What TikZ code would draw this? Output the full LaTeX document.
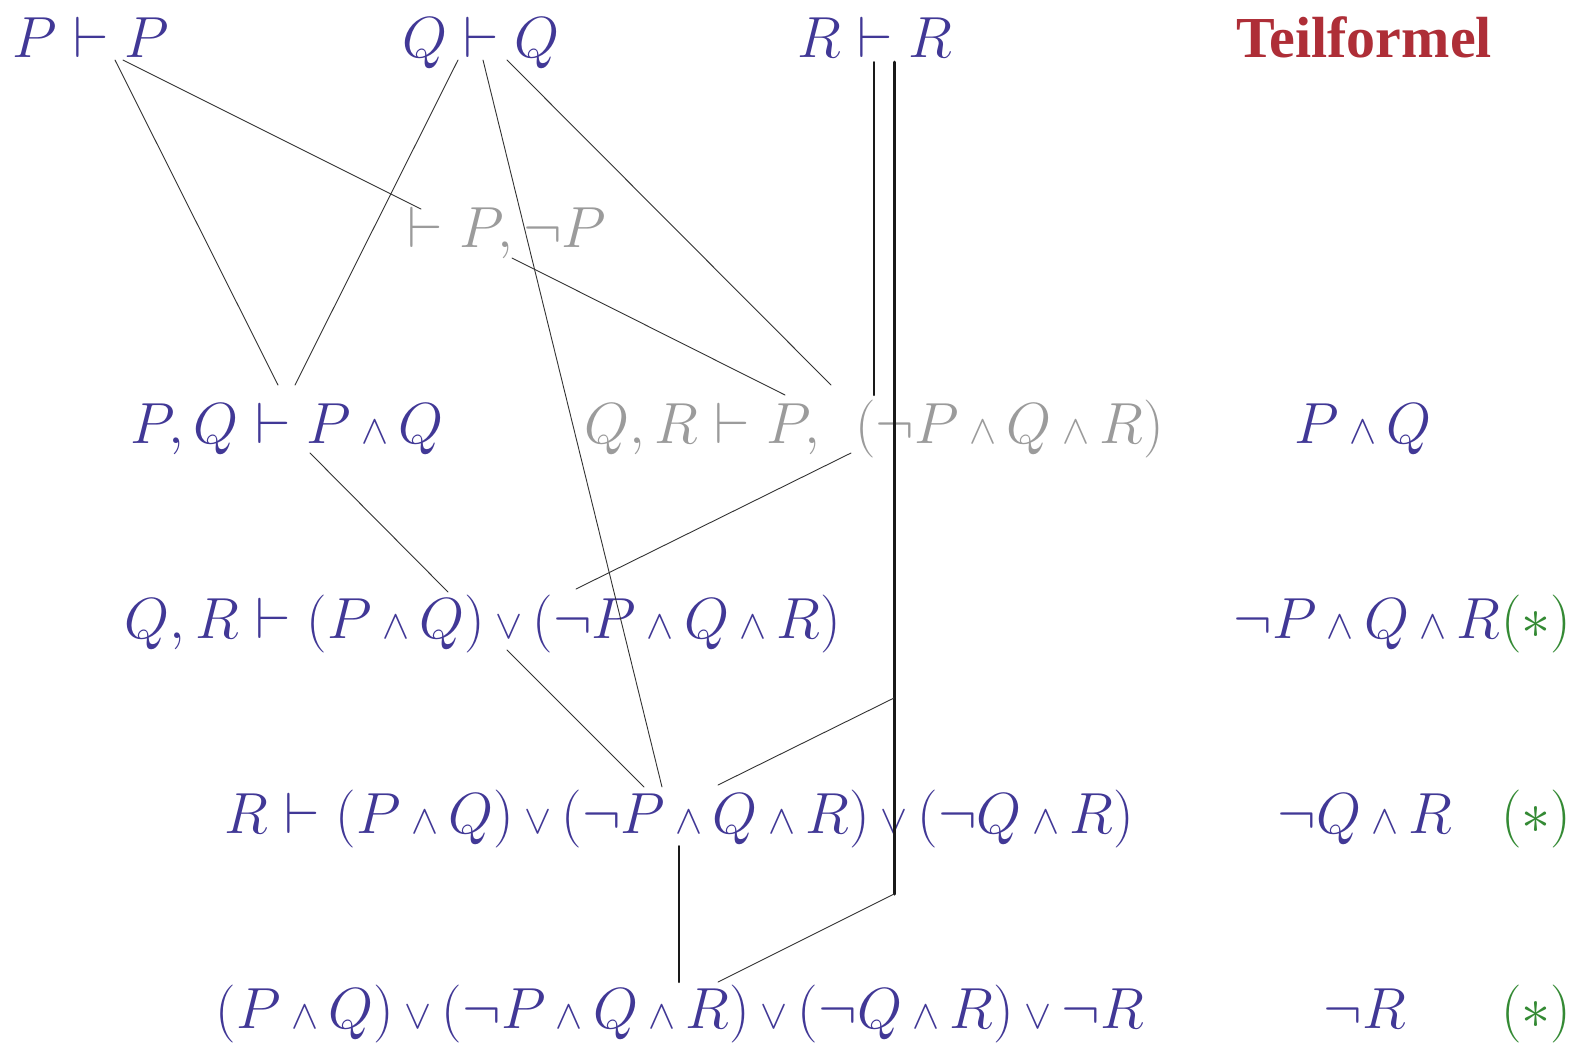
\RequirePackage{fix-cm}
\documentclass[tikz,border=0pt]{standalone}
\usepackage{fontspec}
\newfontfamily\headfont{Liberation Serif}
\usetikzlibrary{calc}
\definecolor{logicBlue}{HTML}{413896}
\definecolor{logicGray}{HTML}{9B9B9B}
\definecolor{logicRed}{HTML}{AE2E37}
\definecolor{logicGreen}{HTML}{348A34}
\newcommand{\sand}{\mathbin{\scriptstyle\wedge}}
\newcommand{\sor}{\mathbin{\scriptstyle\vee}}
\medmuskip=3.2mu plus 2mu minus 3mu
\begin{document}
\begin{tikzpicture}[x=1pt,y=-1pt,line cap=round,line join=round]
\path[fill=white] (0,0) rectangle (1579,1045);
\tikzset{frm/.style={anchor=base,inner sep=0pt,text=logicBlue,font=\fontsize{58}{70}\selectfont},open/.style={frm,text=logicGray},starmark/.style={frm,anchor=base west,text=logicGreen},link/.style={draw=black!80,line width=0.9pt},rule/.style={draw=black!90,line width=2pt},mainrule/.style={draw=black!90,line width=3pt}}
% axioms
\node[frm] (pp) at (91,57) {$P\vdash P$};
\node[frm] (qq) at (481,57) {$Q\vdash Q$};
\node[frm] (rr) at (875,57) {$R\vdash R$};
\node[anchor=base,inner sep=0pt,text=logicRed,font=\headfont\bfseries\fontsize{58}{68}\selectfont] (head) at (1364,57) {Teilformel};
% proof rows
\node[open] (pnp) at (507,247) {$\vdash P,\neg P$};
\node[frm] (pq) at (287,443) {$P,Q\vdash P\sand Q$};
\node[open] (qrp) at (874,443) {$Q,R\vdash P,\;\,(\neg P\sand Q\sand R)$};
\node[frm] (qr) at (483,638) {$Q,R\vdash(P\sand Q)\sor(\neg P\sand Q\sand R)$};
\node[frm] (r) at (679,833) {$R\vdash(P\sand Q)\sor(\neg P\sand Q\sand R)\sor(\neg Q\sand R)$};
\node[frm] (all) at (680,1028) {$(P\sand Q)\sor(\neg P\sand Q\sand R)\sor(\neg Q\sand R)\sor\neg R$};
% subformulas
\node[frm] (tpq) at (1363,443) {$P\sand Q$};
\node[frm] (tpqr) at (1367,638) {$\neg P\sand Q\sand R$};
\node[frm] (tqr) at (1365,833) {$\neg Q\sand R$};
\node[frm] (tr) at (1365,1028) {$\neg R$};
\node[starmark] (s1) at (1501,638) {$(*)$};
\node[starmark] (s2) at (1501,833) {$(*)$};
\node[starmark] (s3) at (1501,1028) {$(*)$};
% link ends
\coordinate (ppa) at (115,60); \coordinate (ppb) at (123,60);
\coordinate (qqa) at (458,60); \coordinate (qqb) at (483,60); \coordinate (qqc) at (507,60);
\coordinate (rra) at (874,62); \coordinate (rrb) at (894,62);
\coordinate (pnpa) at (421,209); \coordinate (pnpb) at (512,258);
\coordinate (pqa) at (278,385); \coordinate (pqb) at (295,385); \coordinate (pqc) at (310,453);
\coordinate (qrpa) at (785,395); \coordinate (qrpb) at (831,385); \coordinate (qrpc) at (874,395); \coordinate (qrpd) at (851,453);
\coordinate (qra) at (448,592); \coordinate (qrb) at (576,589); \coordinate (qrc) at (507,650);
\coordinate (ra) at (644,787); \coordinate (rb) at (662,787); \coordinate (rc) at (718,785); \coordinate (rd) at (679,846);
\coordinate (cut) at (894,698); \coordinate (cutend) at (894,894);
\coordinate (alla) at (679,982); \coordinate (allb) at (718,982);
\draw[link] (ppa) -- (pqa);
\draw[link] (ppb) -- (pnpa);
\draw[link] (qqa) -- (pqb);
\draw[link] (qqb) -- (rb);
\draw[link] (qqc) -- (qrpb);
\draw[link] (pnpb) -- (qrpa);
\draw[rule] (rra) -- (qrpc);
\draw[mainrule] (rrb) -- (cutend);
\draw[link] (pqc) -- (qra);
\draw[link] (qrpd) -- (qrb);
\draw[link] (qrc) -- (ra);
\draw[link] (cut) -- (rc);
\draw[rule] (rd) -- (alla);
\draw[link] (cutend) -- (allb);
\end{tikzpicture}
\end{document}
